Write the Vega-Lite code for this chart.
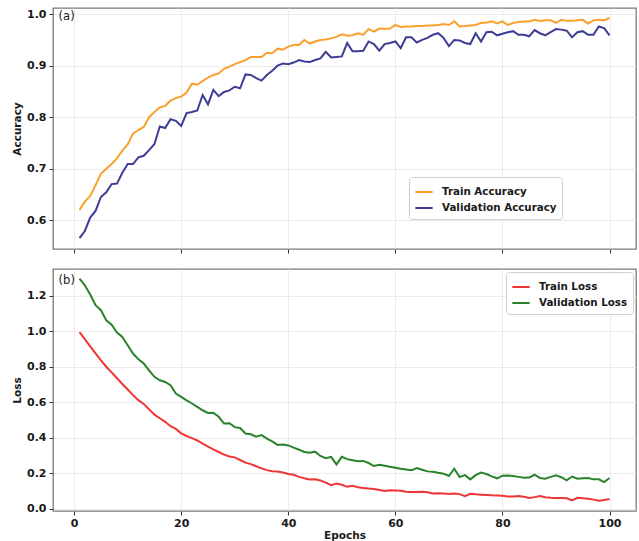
{
  "$schema": "https://vega.github.io/schema/vega-lite/v6.json",
  "padding": {"left": 11, "top": 7, "right": 2, "bottom": 0},
  "spacing": 13,
  "config": {
    "font": "DejaVu Sans",
    "view": {"stroke": "#7a7a7a", "strokeWidth": 1.3},
    "axis": {
      "domain": false,
      "grid": true,
      "gridColor": "#e6e6e6",
      "gridWidth": 0.8,
      "tickColor": "#333",
      "tickSize": 4,
      "labelFont": "DejaVu Sans",
      "labelFontWeight": "bold",
      "labelFontSize": 11,
      "labelColor": "#1a1a1a",
      "labelPadding": 3,
      "titleFont": "DejaVu Sans",
      "titleFontWeight": "bold",
      "titleFontSize": 10.5,
      "titleColor": "#1a1a1a",
      "titlePadding": 4
    },
    "axisX": {"labelPadding": 2, "titlePadding": 2},
    "legend": {
      "title": null,
      "orient": "none",
      "fillColor": "white",
      "strokeColor": "#d0d0d0",
      "cornerRadius": 3,
      "padding": 5,
      "labelFont": "DejaVu Sans",
      "labelFontWeight": "bold",
      "labelFontSize": 10.3,
      "labelColor": "#1a1a1a",
      "symbolType": "stroke",
      "symbolStrokeWidth": 2,
      "symbolSize": 300,
      "rowPadding": 0,
      "labelOffset": 8
    }
  },
  "datasets": {
    "d": [
      {"epoch":1,"Train Accuracy":0.620,"Validation Accuracy":0.565,"Train Loss":0.995,"Validation Loss":1.296},
      {"epoch":2,"Train Accuracy":0.636,"Validation Accuracy":0.579,"Train Loss":0.955,"Validation Loss":1.258},
      {"epoch":3,"Train Accuracy":0.647,"Validation Accuracy":0.605,"Train Loss":0.915,"Validation Loss":1.206},
      {"epoch":4,"Train Accuracy":0.668,"Validation Accuracy":0.618,"Train Loss":0.875,"Validation Loss":1.146},
      {"epoch":5,"Train Accuracy":0.690,"Validation Accuracy":0.645,"Train Loss":0.836,"Validation Loss":1.118},
      {"epoch":6,"Train Accuracy":0.700,"Validation Accuracy":0.654,"Train Loss":0.800,"Validation Loss":1.061},
      {"epoch":7,"Train Accuracy":0.709,"Validation Accuracy":0.670,"Train Loss":0.768,"Validation Loss":1.037},
      {"epoch":8,"Train Accuracy":0.720,"Validation Accuracy":0.671,"Train Loss":0.735,"Validation Loss":0.992},
      {"epoch":9,"Train Accuracy":0.735,"Validation Accuracy":0.692,"Train Loss":0.703,"Validation Loss":0.968},
      {"epoch":10,"Train Accuracy":0.747,"Validation Accuracy":0.709,"Train Loss":0.672,"Validation Loss":0.921},
      {"epoch":11,"Train Accuracy":0.768,"Validation Accuracy":0.709,"Train Loss":0.640,"Validation Loss":0.874},
      {"epoch":12,"Train Accuracy":0.775,"Validation Accuracy":0.722,"Train Loss":0.612,"Validation Loss":0.842},
      {"epoch":13,"Train Accuracy":0.781,"Validation Accuracy":0.725,"Train Loss":0.590,"Validation Loss":0.818},
      {"epoch":14,"Train Accuracy":0.800,"Validation Accuracy":0.736,"Train Loss":0.560,"Validation Loss":0.780},
      {"epoch":15,"Train Accuracy":0.810,"Validation Accuracy":0.748,"Train Loss":0.530,"Validation Loss":0.743},
      {"epoch":16,"Train Accuracy":0.819,"Validation Accuracy":0.782,"Train Loss":0.510,"Validation Loss":0.724},
      {"epoch":17,"Train Accuracy":0.822,"Validation Accuracy":0.779,"Train Loss":0.490,"Validation Loss":0.714},
      {"epoch":18,"Train Accuracy":0.832,"Validation Accuracy":0.796,"Train Loss":0.465,"Validation Loss":0.696},
      {"epoch":19,"Train Accuracy":0.837,"Validation Accuracy":0.793,"Train Loss":0.450,"Validation Loss":0.649},
      {"epoch":20,"Train Accuracy":0.840,"Validation Accuracy":0.783,"Train Loss":0.425,"Validation Loss":0.630},
      {"epoch":21,"Train Accuracy":0.848,"Validation Accuracy":0.808,"Train Loss":0.410,"Validation Loss":0.611},
      {"epoch":22,"Train Accuracy":0.865,"Validation Accuracy":0.810,"Train Loss":0.398,"Validation Loss":0.593},
      {"epoch":23,"Train Accuracy":0.863,"Validation Accuracy":0.813,"Train Loss":0.385,"Validation Loss":0.574},
      {"epoch":24,"Train Accuracy":0.870,"Validation Accuracy":0.843,"Train Loss":0.367,"Validation Loss":0.555},
      {"epoch":25,"Train Accuracy":0.877,"Validation Accuracy":0.825,"Train Loss":0.350,"Validation Loss":0.540},
      {"epoch":26,"Train Accuracy":0.882,"Validation Accuracy":0.853,"Train Loss":0.335,"Validation Loss":0.541},
      {"epoch":27,"Train Accuracy":0.885,"Validation Accuracy":0.841,"Train Loss":0.320,"Validation Loss":0.518},
      {"epoch":28,"Train Accuracy":0.894,"Validation Accuracy":0.849,"Train Loss":0.305,"Validation Loss":0.480},
      {"epoch":29,"Train Accuracy":0.898,"Validation Accuracy":0.852,"Train Loss":0.295,"Validation Loss":0.482},
      {"epoch":30,"Train Accuracy":0.903,"Validation Accuracy":0.859,"Train Loss":0.290,"Validation Loss":0.460},
      {"epoch":31,"Train Accuracy":0.907,"Validation Accuracy":0.856,"Train Loss":0.275,"Validation Loss":0.455},
      {"epoch":32,"Train Accuracy":0.911,"Validation Accuracy":0.883,"Train Loss":0.260,"Validation Loss":0.424},
      {"epoch":33,"Train Accuracy":0.917,"Validation Accuracy":0.882,"Train Loss":0.252,"Validation Loss":0.420},
      {"epoch":34,"Train Accuracy":0.917,"Validation Accuracy":0.876,"Train Loss":0.240,"Validation Loss":0.406},
      {"epoch":35,"Train Accuracy":0.917,"Validation Accuracy":0.871,"Train Loss":0.228,"Validation Loss":0.415},
      {"epoch":36,"Train Accuracy":0.925,"Validation Accuracy":0.882,"Train Loss":0.218,"Validation Loss":0.395},
      {"epoch":37,"Train Accuracy":0.924,"Validation Accuracy":0.890,"Train Loss":0.212,"Validation Loss":0.380},
      {"epoch":38,"Train Accuracy":0.933,"Validation Accuracy":0.900,"Train Loss":0.210,"Validation Loss":0.360},
      {"epoch":39,"Train Accuracy":0.931,"Validation Accuracy":0.904,"Train Loss":0.205,"Validation Loss":0.362},
      {"epoch":40,"Train Accuracy":0.937,"Validation Accuracy":0.903,"Train Loss":0.196,"Validation Loss":0.357},
      {"epoch":41,"Train Accuracy":0.940,"Validation Accuracy":0.906,"Train Loss":0.192,"Validation Loss":0.345},
      {"epoch":42,"Train Accuracy":0.940,"Validation Accuracy":0.911,"Train Loss":0.180,"Validation Loss":0.333},
      {"epoch":43,"Train Accuracy":0.950,"Validation Accuracy":0.908,"Train Loss":0.172,"Validation Loss":0.320},
      {"epoch":44,"Train Accuracy":0.943,"Validation Accuracy":0.907,"Train Loss":0.165,"Validation Loss":0.316},
      {"epoch":45,"Train Accuracy":0.947,"Validation Accuracy":0.911,"Train Loss":0.167,"Validation Loss":0.322},
      {"epoch":46,"Train Accuracy":0.950,"Validation Accuracy":0.914,"Train Loss":0.160,"Validation Loss":0.298},
      {"epoch":47,"Train Accuracy":0.951,"Validation Accuracy":0.927,"Train Loss":0.148,"Validation Loss":0.285},
      {"epoch":48,"Train Accuracy":0.953,"Validation Accuracy":0.916,"Train Loss":0.133,"Validation Loss":0.292},
      {"epoch":49,"Train Accuracy":0.956,"Validation Accuracy":0.917,"Train Loss":0.142,"Validation Loss":0.250},
      {"epoch":50,"Train Accuracy":0.961,"Validation Accuracy":0.918,"Train Loss":0.136,"Validation Loss":0.293},
      {"epoch":51,"Train Accuracy":0.958,"Validation Accuracy":0.944,"Train Loss":0.124,"Validation Loss":0.280},
      {"epoch":52,"Train Accuracy":0.959,"Validation Accuracy":0.928,"Train Loss":0.130,"Validation Loss":0.274},
      {"epoch":53,"Train Accuracy":0.963,"Validation Accuracy":0.928,"Train Loss":0.122,"Validation Loss":0.268},
      {"epoch":54,"Train Accuracy":0.960,"Validation Accuracy":0.929,"Train Loss":0.118,"Validation Loss":0.270},
      {"epoch":55,"Train Accuracy":0.971,"Validation Accuracy":0.947,"Train Loss":0.114,"Validation Loss":0.258},
      {"epoch":56,"Train Accuracy":0.966,"Validation Accuracy":0.942,"Train Loss":0.112,"Validation Loss":0.241},
      {"epoch":57,"Train Accuracy":0.972,"Validation Accuracy":0.929,"Train Loss":0.106,"Validation Loss":0.248},
      {"epoch":58,"Train Accuracy":0.971,"Validation Accuracy":0.942,"Train Loss":0.100,"Validation Loss":0.243},
      {"epoch":59,"Train Accuracy":0.972,"Validation Accuracy":0.944,"Train Loss":0.105,"Validation Loss":0.237},
      {"epoch":60,"Train Accuracy":0.979,"Validation Accuracy":0.947,"Train Loss":0.104,"Validation Loss":0.232},
      {"epoch":61,"Train Accuracy":0.975,"Validation Accuracy":0.934,"Train Loss":0.102,"Validation Loss":0.226},
      {"epoch":62,"Train Accuracy":0.976,"Validation Accuracy":0.955,"Train Loss":0.097,"Validation Loss":0.222},
      {"epoch":63,"Train Accuracy":0.976,"Validation Accuracy":0.955,"Train Loss":0.095,"Validation Loss":0.217},
      {"epoch":64,"Train Accuracy":0.977,"Validation Accuracy":0.945,"Train Loss":0.095,"Validation Loss":0.230},
      {"epoch":65,"Train Accuracy":0.977,"Validation Accuracy":0.950,"Train Loss":0.096,"Validation Loss":0.220},
      {"epoch":66,"Train Accuracy":0.978,"Validation Accuracy":0.954,"Train Loss":0.094,"Validation Loss":0.211},
      {"epoch":67,"Train Accuracy":0.978,"Validation Accuracy":0.960,"Train Loss":0.086,"Validation Loss":0.209},
      {"epoch":68,"Train Accuracy":0.979,"Validation Accuracy":0.963,"Train Loss":0.088,"Validation Loss":0.203},
      {"epoch":69,"Train Accuracy":0.981,"Validation Accuracy":0.954,"Train Loss":0.086,"Validation Loss":0.198},
      {"epoch":70,"Train Accuracy":0.979,"Validation Accuracy":0.938,"Train Loss":0.084,"Validation Loss":0.185},
      {"epoch":71,"Train Accuracy":0.986,"Validation Accuracy":0.950,"Train Loss":0.086,"Validation Loss":0.226},
      {"epoch":72,"Train Accuracy":0.976,"Validation Accuracy":0.949,"Train Loss":0.083,"Validation Loss":0.179},
      {"epoch":73,"Train Accuracy":0.977,"Validation Accuracy":0.944,"Train Loss":0.072,"Validation Loss":0.190},
      {"epoch":74,"Train Accuracy":0.978,"Validation Accuracy":0.942,"Train Loss":0.085,"Validation Loss":0.166},
      {"epoch":75,"Train Accuracy":0.979,"Validation Accuracy":0.963,"Train Loss":0.082,"Validation Loss":0.190},
      {"epoch":76,"Train Accuracy":0.983,"Validation Accuracy":0.947,"Train Loss":0.080,"Validation Loss":0.204},
      {"epoch":77,"Train Accuracy":0.984,"Validation Accuracy":0.965,"Train Loss":0.078,"Validation Loss":0.196},
      {"epoch":78,"Train Accuracy":0.986,"Validation Accuracy":0.966,"Train Loss":0.076,"Validation Loss":0.183},
      {"epoch":79,"Train Accuracy":0.982,"Validation Accuracy":0.959,"Train Loss":0.075,"Validation Loss":0.172},
      {"epoch":80,"Train Accuracy":0.986,"Validation Accuracy":0.962,"Train Loss":0.074,"Validation Loss":0.187},
      {"epoch":81,"Train Accuracy":0.979,"Validation Accuracy":0.965,"Train Loss":0.069,"Validation Loss":0.188},
      {"epoch":82,"Train Accuracy":0.983,"Validation Accuracy":0.967,"Train Loss":0.070,"Validation Loss":0.185},
      {"epoch":83,"Train Accuracy":0.985,"Validation Accuracy":0.960,"Train Loss":0.072,"Validation Loss":0.180},
      {"epoch":84,"Train Accuracy":0.986,"Validation Accuracy":0.960,"Train Loss":0.068,"Validation Loss":0.175},
      {"epoch":85,"Train Accuracy":0.986,"Validation Accuracy":0.957,"Train Loss":0.061,"Validation Loss":0.176},
      {"epoch":86,"Train Accuracy":0.989,"Validation Accuracy":0.969,"Train Loss":0.066,"Validation Loss":0.192},
      {"epoch":87,"Train Accuracy":0.987,"Validation Accuracy":0.963,"Train Loss":0.072,"Validation Loss":0.174},
      {"epoch":88,"Train Accuracy":0.988,"Validation Accuracy":0.959,"Train Loss":0.066,"Validation Loss":0.170},
      {"epoch":89,"Train Accuracy":0.988,"Validation Accuracy":0.965,"Train Loss":0.062,"Validation Loss":0.180},
      {"epoch":90,"Train Accuracy":0.983,"Validation Accuracy":0.971,"Train Loss":0.061,"Validation Loss":0.189},
      {"epoch":91,"Train Accuracy":0.989,"Validation Accuracy":0.970,"Train Loss":0.061,"Validation Loss":0.178},
      {"epoch":92,"Train Accuracy":0.987,"Validation Accuracy":0.968,"Train Loss":0.060,"Validation Loss":0.161},
      {"epoch":93,"Train Accuracy":0.987,"Validation Accuracy":0.955,"Train Loss":0.048,"Validation Loss":0.182},
      {"epoch":94,"Train Accuracy":0.988,"Validation Accuracy":0.965,"Train Loss":0.062,"Validation Loss":0.170},
      {"epoch":95,"Train Accuracy":0.989,"Validation Accuracy":0.967,"Train Loss":0.060,"Validation Loss":0.172},
      {"epoch":96,"Train Accuracy":0.982,"Validation Accuracy":0.960,"Train Loss":0.057,"Validation Loss":0.174},
      {"epoch":97,"Train Accuracy":0.988,"Validation Accuracy":0.960,"Train Loss":0.052,"Validation Loss":0.166},
      {"epoch":98,"Train Accuracy":0.989,"Validation Accuracy":0.976,"Train Loss":0.046,"Validation Loss":0.166},
      {"epoch":99,"Train Accuracy":0.988,"Validation Accuracy":0.973,"Train Loss":0.050,"Validation Loss":0.151},
      {"epoch":100,"Train Accuracy":0.993,"Validation Accuracy":0.959,"Train Loss":0.056,"Validation Loss":0.174}
    ]
  },
  "vconcat": [
    {
      "width": 583,
      "height": 241,
      "layer": [
        {
          "data": {"name": "d"},
          "transform": [{"fold": ["Train Accuracy", "Validation Accuracy"], "as": ["series", "value"]}],
          "mark": {"type": "line", "strokeWidth": 2},
          "encoding": {
            "x": {"field": "epoch", "type": "quantitative", "scale": {"domain": [-3.95, 104.95], "nice": false, "zero": false},
                  "axis": {"values": [0, 20, 40, 60, 80, 100], "labels": false, "title": null}},
            "y": {"field": "value", "type": "quantitative", "scale": {"domain": [0.544, 1.012], "nice": false, "zero": false},
                  "axis": {"values": [0.6, 0.7, 0.8, 0.9, 1.0], "format": ".1f", "title": "Accuracy"}},
            "color": {"field": "series", "type": "nominal",
                      "scale": {"domain": ["Train Accuracy", "Validation Accuracy"], "range": ["#f9a12c", "#3e3d96"]},
                      "legend": {"legendX": 356, "legendY": 169}}
          }
        },
        {
          "data": {"values": [{}]},
          "mark": {"type": "text", "align": "left", "baseline": "middle", "fontSize": 11.5, "font": "DejaVu Sans", "color": "#1a1a1a"},
          "encoding": {
            "x": {"datum": -2.9, "type": "quantitative"},
            "y": {"datum": 0.995, "type": "quantitative"},
            "text": {"value": "(a)"}
          }
        }
      ],
      "resolve": {"scale": {"color": "independent"}}
    },
    {
      "width": 583,
      "height": 242,
      "layer": [
        {
          "data": {"name": "d"},
          "transform": [{"fold": ["Train Loss", "Validation Loss"], "as": ["series", "value"]}],
          "mark": {"type": "line", "strokeWidth": 2},
          "encoding": {
            "x": {"field": "epoch", "type": "quantitative", "scale": {"domain": [-3.95, 104.95], "nice": false, "zero": false},
                  "axis": {"values": [0, 20, 40, 60, 80, 100], "title": "Epochs"}},
            "y": {"field": "value", "type": "quantitative", "scale": {"domain": [-0.012, 1.35], "nice": false, "zero": false},
                  "axis": {"values": [0, 0.2, 0.4, 0.6, 0.8, 1.0, 1.2], "format": ".1f", "title": "Loss"}},
            "color": {"field": "series", "type": "nominal",
                      "scale": {"domain": ["Train Loss", "Validation Loss"], "range": ["#ef3535", "#2a822a"]},
                      "legend": {"legendX": 453, "legendY": 3}}
          }
        },
        {
          "data": {"values": [{}]},
          "mark": {"type": "text", "align": "left", "baseline": "middle", "fontSize": 11.5, "font": "DejaVu Sans", "color": "#1a1a1a"},
          "encoding": {
            "x": {"datum": -2.9, "type": "quantitative"},
            "y": {"datum": 1.282, "type": "quantitative"},
            "text": {"value": "(b)"}
          }
        }
      ]
    }
  ],
  "resolve": {"scale": {"color": "independent"}}
}
